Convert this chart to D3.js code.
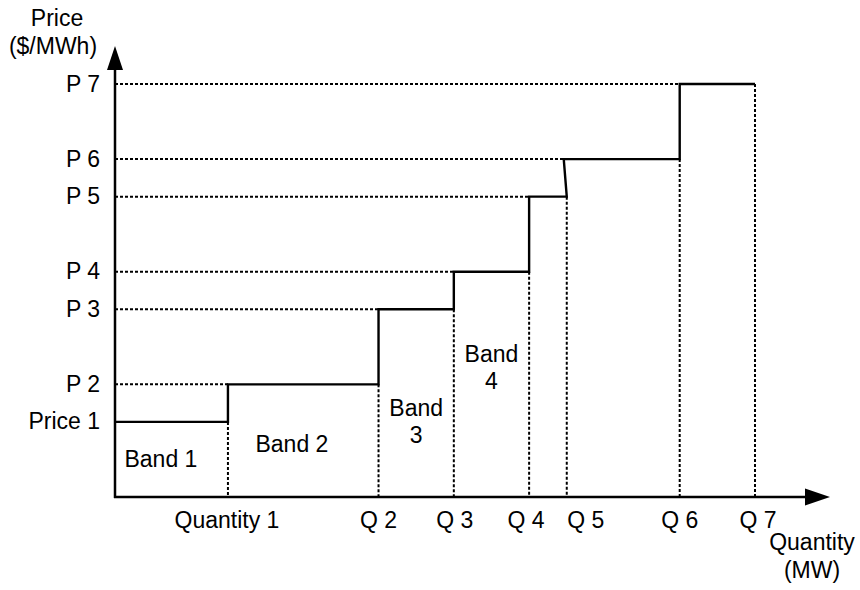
<!DOCTYPE html>
<html>
<head>
<meta charset="utf-8">
<script src="https://cdn.jsdelivr.net/npm/d3@7"></script>
<style>
  html, body { margin: 0; padding: 0; background: #fff; }
  svg { display: block; }
  text { font-family: "Liberation Sans", Arial, sans-serif; fill: #000; }
</style>
</head>
<body>
<svg id="chart" width="860" height="590"></svg>
<script>
// ---- Data ----
const quantityLabels = ["Quantity 1", "Q 2", "Q 3", "Q 4", "Q 5", "Q 6", "Q 7"];
const quantities     = [15, 35, 45, 55, 60, 75, 85];           // MW (relative)
const riserTopQ      = [15, 35, 45, 55, 59.6, 75];             // where each riser meets the next price level
const priceLabels    = ["Price 1", "P 2", "P 3", "P 4", "P 5", "P 6", "P 7"];
const prices         = [2, 3, 5, 6, 8, 9, 11];                 // $/MWh (relative)
const bandLines      = [["Band 1"], ["Band 2"], ["Band", "3"], ["Band", "4"]];
const bandLabelQ     = [6.1, 23.5, 40, 50];
const bandLabelP     = [0.8, 1.2, 2.16, 3.6];

// ---- Layout ----
const labelShiftX = [-1, 0, 1, -3, 19, 0, 3];   // pixel nudges for x tick labels
const svg = d3.select("#chart");
const x = d3.scaleLinear().domain([0, 85]).range([115, 755]);
const y = d3.scaleLinear().domain([0, 11]).range([497, 84]);
const xTip = 830, yTip = 46;
const FS = 23;

// dotted guide lines
const dash = "3,2";
const guides = svg.append("g").attr("stroke", "#000").attr("stroke-width", 2).attr("stroke-dasharray", dash);
prices.forEach((p, i) => {
  if (i === 0) return;
  guides.append("line")
    .attr("x1", x(0)).attr("x2", x(riserTopQ[i - 1]))
    .attr("y1", y(p)).attr("y2", y(p));
});
quantities.forEach((q, i) => {
  guides.append("line")
    .attr("x1", x(q)).attr("x2", x(q))
    .attr("y1", y(prices[i])).attr("y2", y(0));
});

// step curve
const pts = [];
prices.forEach((p, i) => {
  pts.push([i === 0 ? 0 : riserTopQ[i - 1], p]);
  pts.push([quantities[i], p]);
});
svg.append("path")
  .datum(pts)
  .attr("fill", "none")
  .attr("stroke", "#000")
  .attr("stroke-width", 2.4)
  .attr("stroke-linejoin", "miter")
  .attr("d", d3.line().x(d => x(d[0])).y(d => y(d[1])));

// axes
const axes = svg.append("g");
axes.append("line").attr("x1", x(0) - 1).attr("x2", xTip - 20).attr("y1", y(0)).attr("y2", y(0))
  .attr("stroke", "#000").attr("stroke-width", 2.5);
axes.append("line").attr("x1", x(0)).attr("x2", x(0)).attr("y1", y(0) + 1).attr("y2", yTip + 20)
  .attr("stroke", "#000").attr("stroke-width", 2.5);
axes.append("path")
  .attr("d", `M${xTip},${y(0)} L${xTip - 25},${y(0) - 8.5} L${xTip - 25},${y(0) + 8.5} Z`)
  .attr("fill", "#000");
axes.append("path")
  .attr("d", `M${x(0)},${yTip} L${x(0) - 8},${yTip + 24} L${x(0) + 8},${yTip + 24} Z`)
  .attr("fill", "#000");

// y tick labels
svg.append("g").selectAll("text").data(prices).join("text")
  .attr("x", 100)
  .attr("y", d => y(d) + 7.5)
  .attr("text-anchor", "end")
  .attr("font-size", FS)
  .text((d, i) => priceLabels[i]);

// x tick labels
svg.append("g").selectAll("text").data(quantities).join("text")
  .attr("x", (d, i) => x(d) + labelShiftX[i])
  .attr("y", 528)
  .attr("text-anchor", "middle")
  .attr("font-size", FS)
  .text((d, i) => quantityLabels[i]);

// band labels
bandLines.forEach((lines, i) => {
  const t = svg.append("text")
    .attr("text-anchor", "middle")
    .attr("font-size", FS);
  lines.forEach((ln, j) => {
    t.append("tspan")
      .attr("x", x(bandLabelQ[i]))
      .attr("y", y(bandLabelP[i]) + j * 27)
      .text(ln);
  });
});

// axis titles
svg.append("text").attr("x", 57).attr("y", 26).attr("text-anchor", "middle").attr("font-size", FS).text("Price");
svg.append("text").attr("x", 53).attr("y", 54).attr("text-anchor", "middle").attr("font-size", FS).text("($/MWh)");
svg.append("text").attr("x", 812).attr("y", 550).attr("text-anchor", "middle").attr("font-size", FS).text("Quantity");
svg.append("text").attr("x", 812).attr("y", 578).attr("text-anchor", "middle").attr("font-size", FS).text("(MW)");
</script>
</body>
</html>
